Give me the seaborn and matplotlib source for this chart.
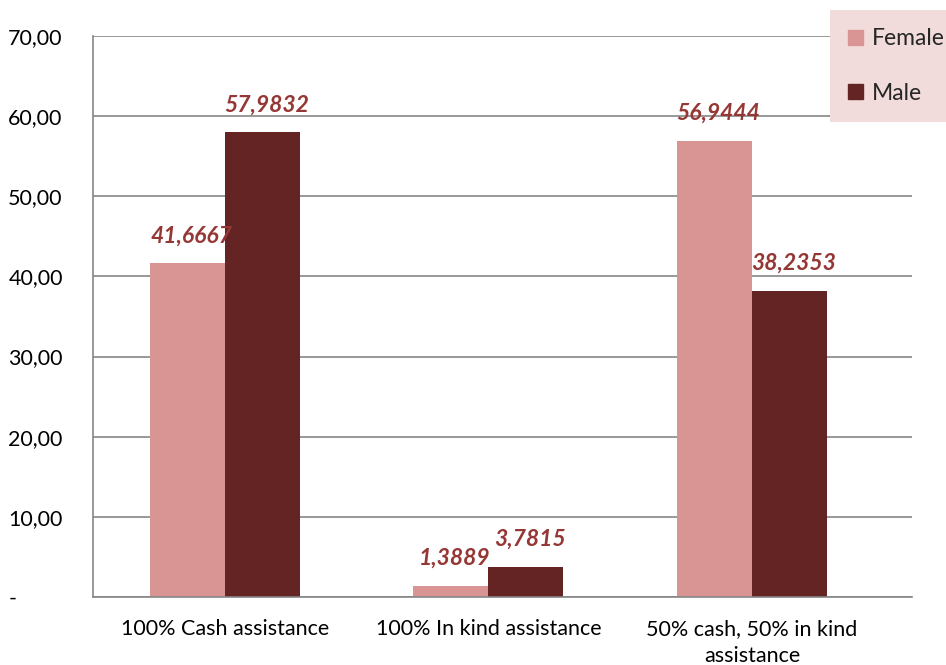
import numpy as np
import pandas as pd
import matplotlib.pyplot as plt
import seaborn as sns

categories = ["100% Cash assistance", "100% In kind assistance", "50% cash, 50% in kind\nassistance"]
female = [41.6667, 1.3889, 56.9444]
male = [57.9832, 3.7815, 38.2353]
y_ticks = [0, 10, 20, 30, 40, 50, 60, 70]

df = pd.DataFrame({
    "category": categories * 2,
    "value": female + male,
    "gender": ["Female"] * 3 + ["Male"] * 3,
})

sns.set_style("white")
plt.rcParams["font.family"] = ["Lato", "DejaVu Sans"]

fig = plt.figure(figsize=(9.46, 6.65), dpi=100)
ax = fig.add_axes([0.0983, 0.1023, 0.8657, 0.8436])

palette = {"Female": "#D99594", "Male": "#632423"}
sns.barplot(data=df, x="category", y="value", hue="gender", palette=palette,
            width=0.57, saturation=1, linewidth=0, ax=ax, legend=False)

# value labels
for cont in ax.containers:
    for bar in cont:
        h = bar.get_height()
        ax.annotate(f"{h:.4f}".replace(".", ","),
                    (bar.get_x() + bar.get_width() / 2, h),
                    xytext=(3, 12), textcoords="offset points",
                    ha="center", va="bottom", fontsize=16.5,
                    fontweight="bold", fontstyle="italic", color="#953735")

ax.set_xlim(-0.5, 2.607)
ax.set_ylim(0, 70)
ax.set_yticks(y_ticks)
ax.set_yticklabels(["-"] + [f"{v:.2f}".replace(".", ",") for v in y_ticks[1:]])
ax.yaxis.grid(True, color="#868686", linewidth=1.2)
ax.set_axisbelow(True)
ax.set_xlabel("")
ax.set_ylabel("")
ax.tick_params(axis="both", length=0, labelsize=15.5, colors="black")
ax.tick_params(axis="x", pad=16)
ax.tick_params(axis="y", pad=61)
for lbl in ax.get_yticklabels():
    lbl.set_horizontalalignment("left")
for lbl in ax.get_xticklabels():
    lbl.set_linespacing(1.45)
for s in ["top", "right"]:
    ax.spines[s].set_visible(False)
for s in ["left", "bottom"]:
    ax.spines[s].set_color("#868686")
    ax.spines[s].set_linewidth(1.2)

handles = [plt.Rectangle((0, 0), 1, 1, color=palette[g]) for g in ["Female", "Male"]]
leg = fig.legend(handles, ["Female", "Male"], loc="upper left",
                 bbox_to_anchor=(0.877, 0.985), frameon=True, fancybox=False,
                 fontsize=16.5, handlelength=0.65, handleheight=0.65,
                 handletextpad=0.4, labelspacing=1.45, borderpad=0.8,
                 borderaxespad=0)
leg.get_frame().set_facecolor("#F2DCDB")
leg.get_frame().set_edgecolor("none")
leg.get_frame().set_alpha(1)

fig.savefig("out.png", dpi=100)
